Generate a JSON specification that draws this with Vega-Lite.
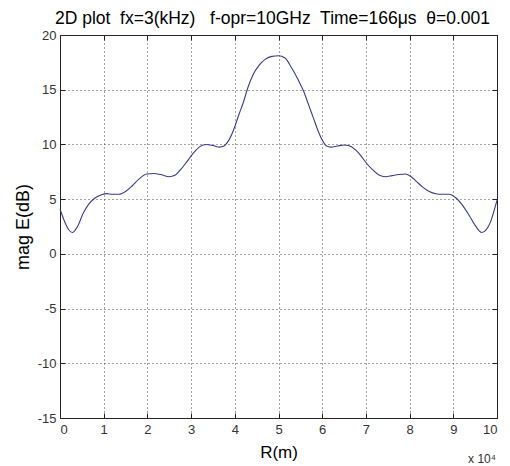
{
  "$schema": "https://vega.github.io/schema/vega-lite/v6.json",
  "width": 437,
  "height": 383,
  "autosize": {"type": "none"},
  "padding": {"left": 60, "top": 35, "right": 13, "bottom": 48},
  "background": "white",
  "config": {
    "font": "Liberation Sans",
    "view": {"stroke": "#222", "strokeWidth": 1}
  },
  "title": {
    "text": "2D plot\u00a0 fx=3(kHz)\u00a0\u00a0 f-opr=10GHz\u00a0 Time=166μs\u00a0 θ=0.001",
    "frame": "group",
    "anchor": "middle",
    "offset": 2,
    "dx": -6,
    "fontSize": 17.5,
    "fontWeight": "normal",
    "color": "#000",
    "font": "Liberation Sans"
  },
  "data": {"values": [
    {"R": 0, "E": 4.1}, {"R": 0.1, "E": 3.0}, {"R": 0.2, "E": 2.2}, {"R": 0.28, "E": 1.95},
    {"R": 0.4, "E": 2.5}, {"R": 0.53, "E": 3.7}, {"R": 0.65, "E": 4.5}, {"R": 0.8, "E": 5.1},
    {"R": 0.95, "E": 5.4}, {"R": 1.07, "E": 5.5}, {"R": 1.2, "E": 5.45}, {"R": 1.35, "E": 5.45},
    {"R": 1.5, "E": 5.7}, {"R": 1.65, "E": 6.2}, {"R": 1.8, "E": 6.8}, {"R": 1.98, "E": 7.3},
    {"R": 2.15, "E": 7.35}, {"R": 2.3, "E": 7.25}, {"R": 2.5, "E": 7.05}, {"R": 2.62, "E": 7.15},
    {"R": 2.75, "E": 7.65}, {"R": 2.9, "E": 8.4}, {"R": 3.05, "E": 9.2}, {"R": 3.2, "E": 9.8},
    {"R": 3.35, "E": 10.0}, {"R": 3.5, "E": 9.9}, {"R": 3.65, "E": 9.75}, {"R": 3.75, "E": 9.85},
    {"R": 3.85, "E": 10.3}, {"R": 3.97, "E": 11.3}, {"R": 4.1, "E": 12.8}, {"R": 4.2, "E": 13.9},
    {"R": 4.3, "E": 15.2}, {"R": 4.42, "E": 16.4}, {"R": 4.55, "E": 17.2}, {"R": 4.7, "E": 17.8},
    {"R": 4.85, "E": 18.05}, {"R": 5.0, "E": 18.1}, {"R": 5.15, "E": 17.9}, {"R": 5.3, "E": 17.0},
    {"R": 5.45, "E": 15.9}, {"R": 5.57, "E": 14.9}, {"R": 5.7, "E": 13.5}, {"R": 5.8, "E": 12.4},
    {"R": 5.9, "E": 11.3}, {"R": 6.0, "E": 10.4}, {"R": 6.1, "E": 9.85}, {"R": 6.2, "E": 9.75},
    {"R": 6.35, "E": 9.85}, {"R": 6.5, "E": 9.95}, {"R": 6.6, "E": 9.9}, {"R": 6.75, "E": 9.55},
    {"R": 6.88, "E": 9.0}, {"R": 7.0, "E": 8.35}, {"R": 7.15, "E": 7.7}, {"R": 7.3, "E": 7.2},
    {"R": 7.45, "E": 7.05}, {"R": 7.6, "E": 7.15}, {"R": 7.75, "E": 7.25}, {"R": 7.9, "E": 7.3},
    {"R": 8.02, "E": 7.1}, {"R": 8.16, "E": 6.6}, {"R": 8.3, "E": 6.1}, {"R": 8.45, "E": 5.7},
    {"R": 8.6, "E": 5.5}, {"R": 8.75, "E": 5.45}, {"R": 8.9, "E": 5.45}, {"R": 9.05, "E": 5.15},
    {"R": 9.2, "E": 4.5}, {"R": 9.35, "E": 3.6}, {"R": 9.5, "E": 2.6}, {"R": 9.65, "E": 1.95},
    {"R": 9.75, "E": 2.2}, {"R": 9.85, "E": 2.9}, {"R": 9.93, "E": 3.9}, {"R": 10.0, "E": 4.9}
  ]},
  "layer": [
    {
      "mark": {"type": "line", "color": "#3a3a8c", "strokeWidth": 1.1, "interpolate": "monotone"},
      "encoding": {
        "x": {"field": "R", "type": "quantitative",
          "scale": {"domain": [0, 10], "nice": false, "zero": false},
          "axis": {"orient": "bottom", "values": [0,1,2,3,4,5,6,7,8,9,10], "title": "R(m)",
            "domain": false, "grid": true, "gridColor": "#333", "gridDash": [1, 3], "gridOpacity": 0.9,
            "ticks": true, "tickSize": -5, "tickColor": "#222", "labelPadding": 10,
            "labelFontSize": 13, "labelColor": "#333", "labelFont": "Liberation Sans",
            "labelOverlap": false,
            "titleFontSize": 17, "titleFontWeight": "normal", "titleColor": "#000", "titlePadding": 8}},
        "y": {"field": "E", "type": "quantitative",
          "scale": {"domain": [-15, 20], "nice": false, "zero": false},
          "axis": {"orient": "left", "values": [-15,-10,-5,0,5,10,15,20], "title": "mag E(dB)",
            "labelExpr": "datum.value < 0 ? '-' + abs(datum.value) : '' + datum.value",
            "domain": false, "grid": true, "gridColor": "#333", "gridDash": [1, 3], "gridOpacity": 0.9,
            "ticks": true, "tickSize": -5, "tickColor": "#222", "labelPadding": 9,
            "labelFontSize": 13, "labelColor": "#333", "labelFont": "Liberation Sans",
            "labelOverlap": false,
            "titleFontSize": 18, "titleFontWeight": "normal", "titleColor": "#000", "titlePadding": 5}}
      }
    },
    {
      "mark": {"type": "line", "opacity": 0},
      "encoding": {
        "x": {"field": "R", "type": "quantitative",
          "scale": {"domain": [0, 10], "nice": false, "zero": false},
          "axis": {"orient": "top", "values": [0,1,2,3,4,5,6,7,8,9,10], "title": null, "labels": false,
            "domain": false, "grid": false, "ticks": true, "tickSize": -5, "tickColor": "#222"}},
        "y": {"field": "E", "type": "quantitative",
          "scale": {"domain": [-15, 20], "nice": false, "zero": false},
          "axis": {"orient": "right", "values": [-15,-10,-5,0,5,10,15,20], "title": null, "labels": false,
            "domain": false, "grid": false, "ticks": true, "tickSize": -5, "tickColor": "#222"}}
      }
    },
    {
      "data": {"values": [{"label": "x 10⁴"}]},
      "mark": {"type": "text", "fontSize": 12, "color": "#333", "align": "center", "baseline": "alphabetic", "dy": 45, "dx": -15},
      "encoding": {
        "x": {"datum": 10, "type": "quantitative", "axis": null},
        "y": {"datum": -15, "type": "quantitative", "axis": null},
        "text": {"field": "label"}
      }
    }
  ],
  "resolve": {"axis": {"x": "independent", "y": "independent"}}
}
